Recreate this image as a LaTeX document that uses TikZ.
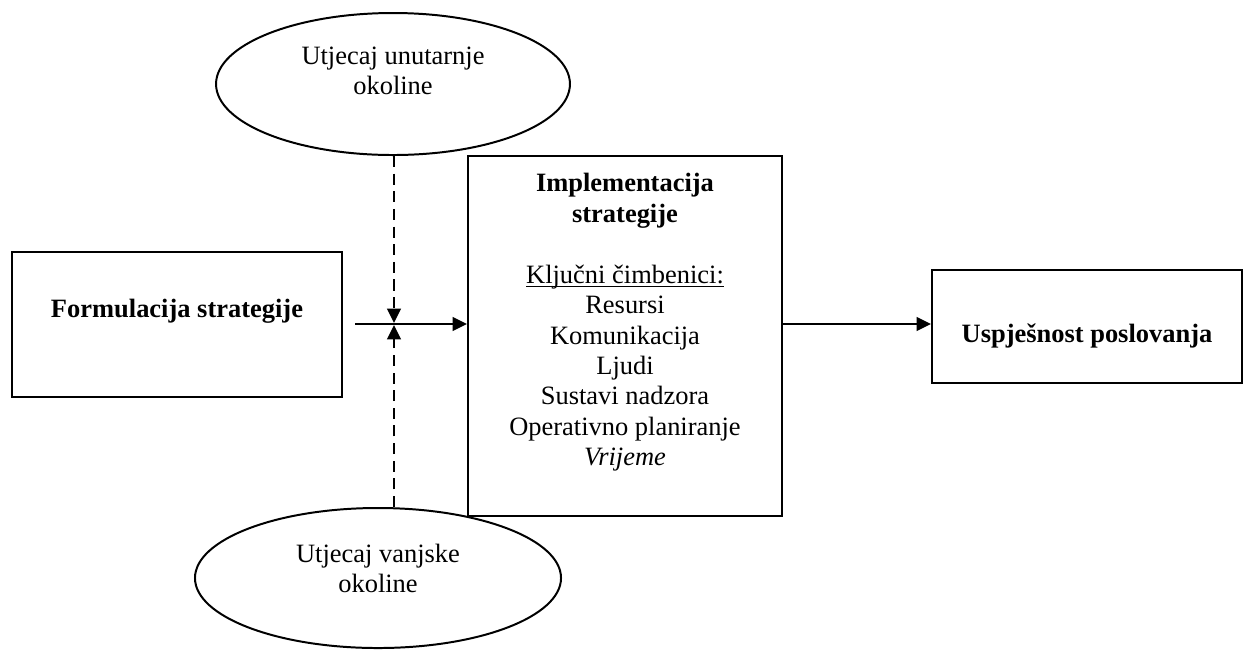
\documentclass[tikz,border=0pt]{standalone}
\usepackage{fontspec}
\setmainfont{Liberation Serif}
\usetikzlibrary{arrows.meta,shapes.geometric,positioning}

\begin{document}
\begin{tikzpicture}[
    x=0.4535pt, y=-0.4535pt,
    font=\fontsize{12pt}{13.8pt}\selectfont,
    box/.style={draw, line width=0.9pt, align=center, inner sep=0pt},
    oval/.style={draw, ellipse, line width=0.9pt, align=center, inner sep=0pt},
    arr/.style={-{Triangle[length=6.5pt, width=6.2pt]}, line width=0.9pt},
    darr/.style={arr, dash pattern=on 5pt off 3pt}
]
\useasboundingbox (0,0) rectangle (1248,649);

\node[oval, minimum width=160.5pt, minimum height=64.4pt, text depth=11.8pt] (unut) at (393,84) {Utjecaj unutarnje\\okoline};
\node[oval, minimum width=166pt, minimum height=63.5pt, text depth=9pt] (vanj) at (378,578) {Utjecaj vanjske\\okoline};
\node[box, minimum width=149.7pt, minimum height=65.8pt, text depth=14.8pt] (form) at (177,324.5) {\textbf{Formulacija strategije}};
\node[box, minimum width=142.4pt, minimum height=163.3pt] (impl) at (625,336) {};
\node[anchor=north, align=center, inner sep=0pt] (implTxt) at ([yshift=-8.2pt]impl.north) {\textbf{Implementacija}\\\textbf{strategije}\\[13.8pt]\underline{\smash{Ključni čimbenici:}}\\Resursi\\Komunikacija\\Ljudi\\Sustavi nadzora\\Operativno planiranje\\\textit{Vrijeme}};
\node[box, minimum width=140.6pt, minimum height=51.2pt, text height=16.7pt] (uspj) at (1087,326.5) {\textbf{Uspješnost poslovanja}};

\coordinate (split) at (355,324);
\coordinate (hitT) at (394,323);
\coordinate (hitB) at (394,325);

\draw[arr] (split) -- (split -| impl.west);
\draw[darr] (hitT |- unut.south) -- (hitT);
\draw[darr] (hitB |- vanj.north) -- (hitB);
\draw[arr] (split -| impl.east) -- (split -| uspj.west);
\end{tikzpicture}
\end{document}
